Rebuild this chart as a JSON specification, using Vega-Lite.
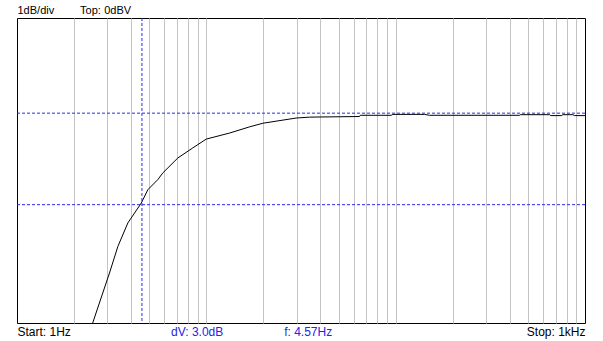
{
  "$schema": "https://vega.github.io/schema/vega-lite/v6.json",
  "width": 568,
  "height": 305,
  "autosize": {"type": "none"},
  "padding": {"left": 17, "top": 18, "right": 18, "bottom": 18},
  "background": "white",
  "config": {
    "view": {"stroke": "black", "strokeWidth": 1},
    "axis": {
      "gridColor": "#c4c4c4",
      "gridOpacity": 1,
      "gridWidth": 1,
      "domain": false,
      "ticks": false,
      "title": null,
      "labelFont": "Liberation Sans",
      "labelFontSize": 12,
      "labelColor": "black",
      "labelFlush": false,
      "labelOverlap": false,
      "labelBound": false
    }
  },
  "layer": [
    {
      "data": {
        "values": [
          {"f": 2.51, "dB": -10.0},
          {"f": 3.08, "dB": -8.36},
          {"f": 3.41, "dB": -7.49},
          {"f": 3.85, "dB": -6.72},
          {"f": 4.53, "dB": -6.07},
          {"f": 4.91, "dB": -5.63},
          {"f": 5.54, "dB": -5.3},
          {"f": 5.89, "dB": -5.08},
          {"f": 7.07, "dB": -4.59},
          {"f": 8.48, "dB": -4.26},
          {"f": 9.99, "dB": -3.97},
          {"f": 13.3, "dB": -3.77},
          {"f": 16.9, "dB": -3.57},
          {"f": 19.9, "dB": -3.45},
          {"f": 29.8, "dB": -3.28},
          {"f": 35.1, "dB": -3.25},
          {"f": 64.4, "dB": -3.23},
          {"f": 65.0, "dB": -3.19},
          {"f": 94.8, "dB": -3.19},
          {"f": 96.7, "dB": -3.16},
          {"f": 142, "dB": -3.16},
          {"f": 151, "dB": -3.19},
          {"f": 451, "dB": -3.19},
          {"f": 455, "dB": -3.17},
          {"f": 650, "dB": -3.17},
          {"f": 660, "dB": -3.2},
          {"f": 750, "dB": -3.2},
          {"f": 764, "dB": -3.17},
          {"f": 863, "dB": -3.17},
          {"f": 881, "dB": -3.2},
          {"f": 1000, "dB": -3.2}
        ]
      },
      "mark": {"type": "line", "color": "black", "strokeWidth": 1, "clip": true},
      "encoding": {
        "x": {
          "field": "f",
          "type": "quantitative",
          "scale": {"type": "log", "domain": [1, 1000], "nice": false},
          "axis": {
            "orient": "bottom",
            "grid": true,
            "values": [1, 2, 3, 4, 5, 6, 6.47, 7, 8, 9, 10, 20, 25.6, 30, 40, 50, 60, 70, 80, 90, 100, 200, 300, 400, 500, 600, 700, 800, 900, 1000],
            "labelExpr": "datum.value == 1 ? 'Start: 1Hz' : datum.value == 6.47 ? 'dV: 3.0dB' : datum.value == 25.6 ? 'f: 4.57Hz' : datum.value == 1000 ? 'Stop: 1kHz' : ''",
            "labelAlign": {"condition": {"test": "datum.value == 1000", "value": "right"}, "value": "left"},
            "labelColor": {"condition": {"test": "datum.value == 6.47 || datum.value == 25.6", "value": "#2424e8"}, "value": "black"},
            "gridOpacity": {"condition": {"test": "datum.value == 1 || datum.value == 6.47 || datum.value == 25.6 || datum.value == 1000", "value": 0}, "value": 1},
            "labelBaseline": "top",
            "labelPadding": 3
          }
        },
        "y": {
          "field": "dB",
          "type": "quantitative",
          "scale": {"domain": [-10, 0], "nice": false, "zero": false},
          "axis": {
            "grid": true,
            "labels": false,
            "values": [-1, -2, -3, -4, -5, -6, -7, -8, -9]
          }
        }
      }
    },
    {
      "data": {"values": [{"marker_f": 4.57}]},
      "mark": {"type": "rule", "color": "#2a2af0", "strokeWidth": 1, "strokeDash": [3, 2]},
      "encoding": {
        "x": {
          "field": "marker_f",
          "type": "quantitative",
          "axis": {
            "orient": "top",
            "grid": false,
            "values": [1, 2.14, 2.87],
            "labelExpr": "datum.value == 1 ? '1dB/div' : datum.value == 2.14 ? 'Top:' : '0dBV'",
            "labelAlign": "left",
            "labelBaseline": "bottom",
            "labelFontSize": 11,
            "labelPadding": 3
          }
        }
      }
    },
    {
      "data": {"values": [{"marker_dB": -3.12}, {"marker_dB": -6.12}]},
      "mark": {"type": "rule", "color": "#2a2af0", "strokeWidth": 1, "strokeDash": [3, 2]},
      "encoding": {
        "y": {"field": "marker_dB", "type": "quantitative", "axis": null}
      }
    }
  ],
  "resolve": {"axis": {"x": "independent"}}
}
